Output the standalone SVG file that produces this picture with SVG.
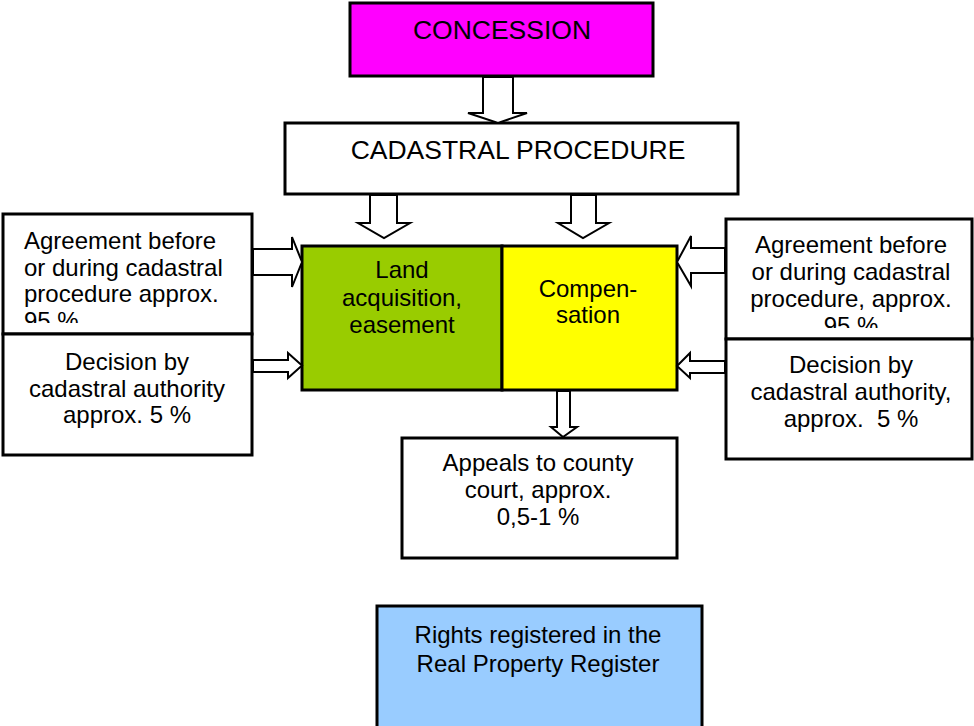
<svg xmlns="http://www.w3.org/2000/svg" width="974" height="726" viewBox="0 0 974 726">
<style>
.box{stroke:#000;stroke-width:3}
.t{font-family:"Liberation Sans",Arial,sans-serif;font-size:24px;fill:#000;text-anchor:middle}
.tl{text-anchor:start}
.title{font-size:26.5px}
.arr{fill:#fff;stroke:#000;stroke-width:2;stroke-linejoin:miter}
</style>
<defs>
<clipPath id="clipL"><rect x="0" y="210" width="260" height="113"/></clipPath>
<clipPath id="clipR"><rect x="720" y="215" width="254" height="113"/></clipPath>
</defs>
<rect width="974" height="726" fill="#fff"/>

<g id="concession">
<rect class="box" x="350" y="3" width="303" height="73" fill="#FF00FF"/>
<text class="t title" x="502" y="39">CONCESSION</text>
</g>

<g id="cadastral">
<rect class="box" x="285" y="123" width="453" height="71" fill="#fff"/>
<text class="t title" x="518" y="159">CADASTRAL PROCEDURE</text>
</g>

<g id="land">
<rect class="box" x="302" y="246" width="200" height="144" fill="#99CC00"/>
<text class="t" x="402"><tspan x="402" y="278">Land</tspan><tspan x="402" y="306">acquisition,</tspan><tspan x="402" y="333">easement</tspan></text>
</g>

<g id="compensation">
<rect class="box" x="502" y="246" width="175" height="144" fill="#FFFF00"/>
<text class="t" x="588"><tspan x="588" y="297">Compen-</tspan><tspan x="588" y="323">sation</tspan></text>
</g>

<g id="agreeLeft">
<rect class="box" x="3" y="214" width="249" height="120" fill="#fff"/>
<text class="t tl" clip-path="url(#clipL)"><tspan x="24" y="249">Agreement before</tspan><tspan x="24" y="276">or during cadastral</tspan><tspan x="24" y="302">procedure approx.</tspan><tspan x="24" y="329">95 %</tspan></text>
</g>

<g id="decisionLeft">
<rect class="box" x="3" y="334" width="249" height="121" fill="#fff"/>
<text class="t"><tspan x="127" y="370">Decision by</tspan><tspan x="127" y="397">cadastral authority</tspan><tspan x="127" y="423">approx. 5 %</tspan></text>
</g>

<g id="agreeRight">
<rect class="box" x="726" y="219" width="246" height="120" fill="#fff"/>
<text class="t" clip-path="url(#clipR)"><tspan x="851" y="253">Agreement before</tspan><tspan x="851" y="280">or during cadastral</tspan><tspan x="851" y="307">procedure, approx.</tspan><tspan x="851" y="334">95 %</tspan></text>
</g>

<g id="decisionRight">
<rect class="box" x="726" y="339" width="246" height="120" fill="#fff"/>
<text class="t" xml:space="preserve"><tspan x="851" y="373">Decision by</tspan><tspan x="851" y="400">cadastral authority,</tspan><tspan x="851" y="427">approx.  5 %</tspan></text>
</g>

<g id="appeals">
<rect class="box" x="402" y="438" width="275" height="120" fill="#fff"/>
<text class="t"><tspan x="538" y="471">Appeals to county</tspan><tspan x="538" y="498">court, approx.</tspan><tspan x="538" y="525">0,5-1 %</tspan></text>
</g>

<g id="register">
<rect class="box" x="377" y="606" width="325" height="125" fill="#99CCFF"/>
<text class="t"><tspan x="538" y="643">Rights registered in the</tspan><tspan x="538" y="672">Real Property Register</tspan></text>
</g>

<g id="connectors">
<polygon class="arr" points="483,77 513,77 513,113 527,113 498,123 468,113 483,113"/>
<polygon class="arr" points="370,195 397,195 397,223 410,223 384,238 358,223 370,223"/>
<polygon class="arr" points="571,195 596,195 596,223 609,223 583,238 558,223 571,223"/>
<polygon class="arr" points="557,391 570,391 570,427 577,427 563,437 551,427 557,427"/>
<polygon class="arr" points="253,249 292,249 292,237 302,262 292,287 292,275 253,275"/>
<polygon class="arr" points="253,360 288,360 288,353 302,365.5 288,378 288,372 253,372"/>
<polygon class="arr" points="725,248 691,248 691,236 677,262 691,286 691,273 725,273"/>
<polygon class="arr" points="725,361 690,361 690,353 677,366 690,378 690,373 725,373"/>
</g>
</svg>
